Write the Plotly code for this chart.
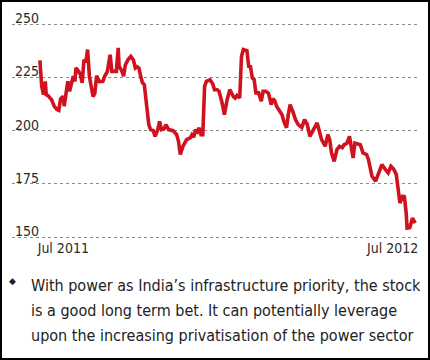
import plotly.graph_objects as go

dates = [
    "2011-06-05", "2011-06-07", "2011-06-09", "2011-06-11", "2011-06-12", "2011-06-14",
    "2011-06-18", "2011-06-21", "2011-06-24", "2011-06-26", "2011-06-28", "2011-07-01",
    "2011-07-02", "2011-07-04", "2011-07-06", "2011-07-08", "2011-07-10", "2011-07-12",
    "2011-07-14", "2011-07-15", "2011-07-18", "2011-07-20", "2011-07-22", "2011-07-24",
    "2011-07-26", "2011-07-28", "2011-07-30", "2011-08-01", "2011-08-03", "2011-08-05",
    "2011-08-07", "2011-08-10", "2011-08-14", "2011-08-16", "2011-08-19", "2011-08-22",
    "2011-08-24", "2011-08-29", "2011-08-31", "2011-09-01", "2011-09-04", "2011-09-06",
    "2011-09-08", "2011-09-11", "2011-09-14", "2011-09-17", "2011-09-19", "2011-09-21",
    "2011-09-23", "2011-09-25", "2011-09-27", "2011-09-29", "2011-10-01", "2011-10-02",
    "2011-10-04", "2011-10-06", "2011-10-09", "2011-10-11", "2011-10-14", "2011-10-16",
    "2011-10-18", "2011-10-21", "2011-10-23", "2011-10-26", "2011-10-31", "2011-11-04",
    "2011-11-06", "2011-11-08", "2011-11-11", "2011-11-15", "2011-11-19", "2011-11-21",
    "2011-11-23", "2011-11-25", "2011-11-27", "2011-11-29", "2011-12-01", "2011-12-03",
    "2011-12-05", "2011-12-07", "2011-12-11", "2011-12-14", "2011-12-16", "2011-12-19",
    "2011-12-21", "2011-12-24", "2011-12-27", "2011-12-30", "2012-01-02", "2012-01-06",
    "2012-01-08", "2012-01-10", "2012-01-13", "2012-01-15", "2012-01-17", "2012-01-21",
    "2012-01-23", "2012-01-25", "2012-01-27", "2012-01-29", "2012-01-31", "2012-02-03",
    "2012-02-06", "2012-02-08", "2012-02-11", "2012-02-14", "2012-02-17", "2012-02-19",
    "2012-02-21", "2012-02-23", "2012-02-26", "2012-02-29", "2012-03-02", "2012-03-05",
    "2012-03-07", "2012-03-09", "2012-03-12", "2012-03-15", "2012-03-18", "2012-03-22",
    "2012-03-25", "2012-03-28", "2012-03-31", "2012-04-04", "2012-04-08", "2012-04-10",
    "2012-04-13", "2012-04-17", "2012-04-20", "2012-04-22", "2012-04-24", "2012-04-27",
    "2012-04-30", "2012-05-03", "2012-05-06", "2012-05-08", "2012-05-11", "2012-05-14",
    "2012-05-16", "2012-05-18", "2012-05-20", "2012-05-24", "2012-05-26", "2012-05-29",
    "2012-06-02", "2012-06-04", "2012-06-08", "2012-06-12", "2012-06-15", "2012-06-19",
    "2012-06-23", "2012-06-26", "2012-06-29", "2012-07-02", "2012-07-05", "2012-07-07",
    "2012-07-09", "2012-07-12", "2012-07-14", "2012-07-16", "2012-07-17", "2012-07-20",
    "2012-07-23", "2012-07-26",
]

prices = [
    233.0, 220.8, 216.9, 223.1, 216.9, 216.4,
    214.5, 211.4, 209.9, 209.5, 214.9, 216.1,
    211.5, 219.2, 223.1, 218.4, 222.4, 225.5,
    223.1, 229.4, 227.8, 226.3, 222.4, 233.3,
    232.0, 238.0, 225.5, 220.8, 216.0, 217.5,
    225.8, 223.0, 223.1, 225.5, 227.8, 235.6,
    227.8, 227.8, 238.8, 230.2, 228.0, 225.5,
    230.9, 233.3, 234.8, 233.0, 229.4, 230.0,
    229.4, 225.5, 222.4, 221.6, 213.0, 209.0,
    202.8, 200.5, 200.0, 197.3, 200.5, 204.4,
    200.5, 201.0, 202.8, 200.5, 200.0, 198.1,
    195.0, 188.8, 192.7, 195.8, 196.6, 198.1,
    197.0, 200.5, 199.5, 201.3, 198.1, 198.1,
    220.8, 223.1, 223.9, 222.0, 219.2, 219.2,
    218.5, 213.8, 207.5, 214.5, 219.2, 216.0,
    215.3, 216.5, 215.3, 234.8, 238.0, 237.5,
    230.2, 230.0, 224.7, 224.0, 217.7, 217.7,
    213.8, 218.4, 218.4, 217.5, 212.2, 215.0,
    214.0, 211.4, 209.0, 207.5, 204.4, 201.3,
    207.5, 212.2, 209.0, 205.2, 202.8, 201.5,
    205.2, 203.0, 197.3, 200.5, 203.6, 200.5,
    195.8, 192.7, 198.1, 195.8, 189.6, 185.6,
    191.1, 192.7, 192.0, 193.4, 194.0, 197.3,
    192.7, 187.2, 194.2, 193.5, 193.4, 189.6,
    188.8, 186.5, 178.6, 176.3, 180.2, 184.1,
    181.7, 180.2, 183.3, 182.0, 179.4, 173.2,
    166.1, 169.2, 169.0, 161.3, 154.3, 154.5,
    159.0, 156.7,
]

y_ticks = [150, 175, 200, 225, 250]
x_tick_dates = ["2011-07-01", "2012-07-01"]
x_tick_labels = ["Jul 2011", "Jul 2012"]

caption_lines = [
    "With power as India\u2019s infrastructure priority, the stock",
    "is a good long term bet. It can potentially leverage",
    "upon the increasing privatisation of the power sector",
]

W, H = 430, 360
L, R, T, B = 12, 13, 0, 116
plot_w = W - L - R
plot_h = H - T - B
plot_bottom = T + plot_h

def px_x(px):
    return (px - L) / plot_w

def px_y(py):
    return (plot_bottom - py) / plot_h

FONT = ("DejaVu Sans Condensed, Roboto Condensed, Liberation Sans Narrow, "
        "Arial Narrow, Roboto, Liberation Sans, sans-serif")

fig = go.Figure()
fig.add_trace(go.Scatter(
    x=dates, y=prices, mode="lines",
    line=dict(color="#d0121f", width=3.6),
    hoverinfo="skip", showlegend=False,
))

fig.update_layout(
    width=W, height=H,
    margin=dict(l=L, r=R, t=T, b=B, pad=0),
    paper_bgcolor="white", plot_bgcolor="white",
    font=dict(family=FONT, color="#2a2a2a", size=14),
    showlegend=False,
)

fig.update_xaxes(
    type="date",
    range=["2011-05-05", "2012-07-28"],
    tickvals=x_tick_dates, ticktext=x_tick_labels,
    showgrid=False, zeroline=False, showline=False, ticks="",
    ticklabelstandoff=-6,
    tickfont=dict(family=FONT, size=14, color="#2a2a2a"),
    fixedrange=True,
)

fig.update_yaxes(
    range=[146.86, 261.25],
    tickvals=y_ticks,
    ticklabelposition="inside top",
    ticklabelshift=4,
    showgrid=True, gridcolor="#8a8a8a", gridwidth=1, griddash="dot",
    zeroline=False, showline=False, ticks="",
    tickfont=dict(family=FONT, size=14, color="#2a2a2a"),
    fixedrange=True,
)

# outer frame
fig.add_shape(type="rect", xref="paper", yref="paper",
              x0=px_x(1), x1=px_x(429), y0=px_y(359), y1=px_y(1),
              line=dict(color="black", width=2), fillcolor="rgba(0,0,0,0)", layer="above")

# bullet
fig.add_annotation(xref="paper", yref="paper", x=px_x(12.5), y=px_y(281),
                   text="\u25c6", showarrow=False, xanchor="center", yanchor="middle",
                   font=dict(family="DejaVu Sans", size=9, color="#222222"))

for i, line in enumerate(caption_lines):
    fig.add_annotation(xref="paper", yref="paper", x=px_x(29), y=px_y(285 + 25 * i),
                       text=line, showarrow=False, xanchor="left", yanchor="middle",
                       font=dict(family=FONT, size=16, color="#222222"))

fig.write_html("out.html", config={"displayModeBar": False},
               post_script="document.body.style.margin='0';")
